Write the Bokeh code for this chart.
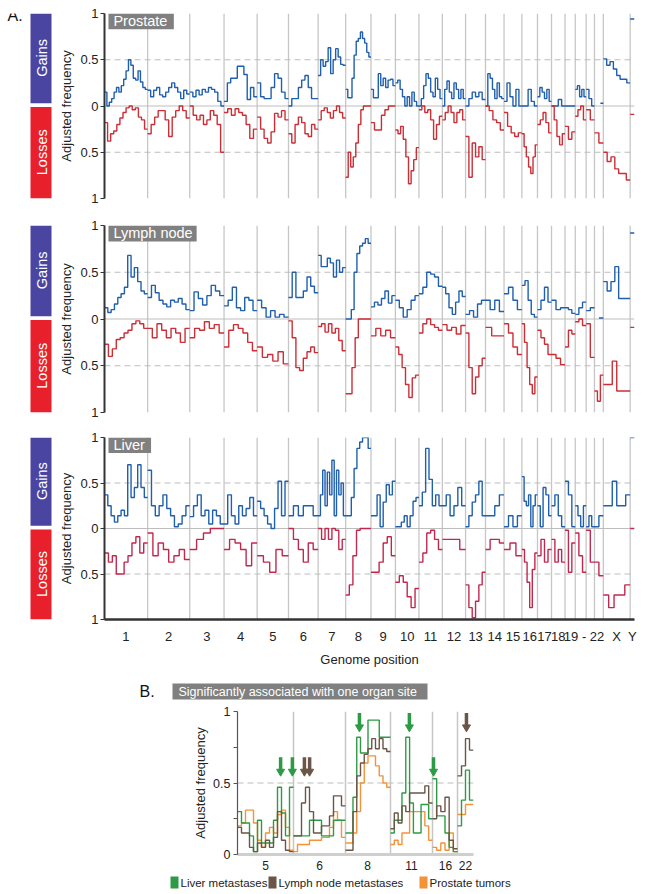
import math
import numpy as np
from bokeh.plotting import figure
from bokeh.layouts import column, row
from bokeh.models import FixedTicker, Span, Range1d, Label, CustomJSTickFormatter
from bokeh.core.properties import value
from bokeh.embed import file_html
from bokeh.resources import INLINE

FONT = "Liberation Sans"
N = None

# ---------------- genome layout (Mb) ----------------
chromosomes = ["1", "2", "3", "4", "5", "6", "7", "8", "9", "10", "11", "12",
               "13", "14", "15", "16", "17", "18", "19", "20", "21", "22", "X", "Y"]
chrom_length_mb = [249, 243, 198, 191, 181, 171, 159, 146, 141, 136, 135, 134,
                   115, 107, 103, 90, 81, 78, 59, 63, 48, 51, 155, 25]
axis_groups = [["1"], ["2"], ["3"], ["4"], ["5"], ["6"], ["7"], ["8"], ["9"], ["10"],
               ["11"], ["12"], ["13"], ["14"], ["15"], ["16"], ["17"], ["18"],
               ["19", "20", "21", "22"], ["X"], ["Y"]]
axis_labels = ["1", "2", "3", "4", "5", "6", "7", "8", "9", "10", "11", "12", "13",
               "14", "15", "16", "17", "18", "19 - 22", "X", "Y"]

# ---------------- Panel A data (fraction per chromosome bin) ----------------
prostate_gains = [
    [0.15, 0.0, 0.04, 0.08, 0.15, 0.2, 0.15, 0.22, 0.29, 0.38, 0.5, 0.44, 0.3, 0.28, 0.38, 0.26, 0.2, 0.18],
    [0.17, 0.1, 0.17, 0.2, 0.12, 0.1, 0.15, 0.2, 0.25, 0.2, 0.15, 0.08, 0.17, 0.13],
    [0.15, 0.1, 0.17, 0.12, 0.18, 0.15, 0.2, 0.18, 0.15, 0.05, 0.0],
    [0.05, 0.25, 0.3, 0.3, 0.43, 0.43, 0.34, 0.07, 0.2, 0.1],
    [0.25, 0.1, 0.08, 0.08, 0.2, 0.35, 0.3, 0.15, 0.08],
    [0.0, 0.08, 0.08, 0.2, 0.28, 0.33, 0.2, 0.08, 0.08],
    [0.33, 0.5, 0.43, 0.48, 0.63, 0.35, 0.5, 0.62, 0.53, 0.45, 0.44],
    [0.18, 0.09, 0.09, 0.3, 0.55, 0.7, 0.73, 0.8, 0.73, 0.68, 0.58, 0.53],
    [0.18, 0.09, 0.09, 0.35, 0.22, 0.3, 0.2, 0.28, 0.29, 0.22],
    [0.25, 0.28, 0.18, 0.1, 0.0, 0.1, 0.0, 0.15, 0.05, 0.0],
    [0.0, 0.08, 0.22, 0.35, 0.3, 0.15, 0.1, 0.3, 0.18, 0.08],
    [0.0, 0.18, 0.27, 0.15, 0.08, 0.25, 0.18, 0.08, 0.18, 0.08],
    [0.0, 0.08, 0.15, 0.1, 0.15, 0.07],
    [0.0, 0.35, 0.3, 0.18, 0.08, 0.25, 0.1, 0.08],
    [0.05, 0.25, 0.1, 0.0, 0.18, 0.0],
    [0.0, 0.0, 0.18, 0.05, 0.0],
    [0.1, 0.2, 0.15, 0.08, 0.18, 0.05],
    [0.0, 0.0, 0.07, 0.0],
    [0.0, 0.0],
    [0.18, 0.22, 0.1, 0.18, 0.1],
    [0.18, 0.08, 0.0],
    [N, N, 0.03],
    [0.51, 0.44, 0.48, 0.4, 0.33, 0.29, 0.29, 0.25],
    [0.94],
]
prostate_losses = [
    [0.18, 0.38, 0.3, 0.27, 0.2, 0.13, 0.07, 0.02, 0.0, 0.04, 0.02, 0.12, 0.15, 0.25],
    [0.3, 0.2, 0.12, 0.05, 0.05, 0.15, 0.33, 0.12, 0.05, 0.0, 0.05, 0.13],
    [0.0, 0.1, 0.15, 0.1, 0.2, 0.15, 0.05, 0.1, 0.2, 0.5],
    [0.07, 0.03, 0.1, 0.03, 0.07, 0.1, 0.2, 0.35, 0.25],
    [0.12, 0.25, 0.35, 0.4, 0.28, 0.08, 0.12, 0.05, 0.15],
    [0.3, 0.4, 0.2, 0.12, 0.18, 0.3, 0.33, 0.2, 0.25],
    [0.15, 0.05, 0.02, 0.07, 0.13, 0.05, 0.0, 0.07, 0.13],
    [0.77, 0.5, 0.66, 0.55, 0.4, 0.2, 0.04, 0.0, 0.0, 0.0],
    [0.18, 0.26, 0.26, 0.1, 0.04, 0.0, 0.0],
    [0.26, 0.3, 0.22, 0.36, 0.55, 0.84, 0.7, 0.58, 0.45],
    [0.04, 0.0, 0.07, 0.04, 0.15, 0.36, 0.2, 0.11],
    [0.15, 0.07, 0.0, 0.07, 0.18, 0.07, 0.04, 0.15],
    [0.33, 0.77, 0.4, 0.55, 0.44, 0.58],
    [0.0, 0.05, 0.15, 0.18, 0.26],
    [0.07, 0.22, 0.29, 0.33, 0.29],
    [0.3, 0.44, 0.55, 0.66, 0.73, 0.55, 0.42],
    [0.2, 0.15, 0.07, 0.18, 0.29],
    [0.0, 0.15, 0.33, 0.42, 0.3],
    [0.22, 0.36, 0.28],
    [0.11, 0.04, 0.0, 0.15],
    [0.04, 0.15],
    [0.29, 0.4],
    [0.5, 0.6, 0.55, 0.68, 0.73, 0.73, 0.8],
    [0.09],
]
lymph_gains = [
    [0.12, 0.07, 0.1, 0.16, 0.23, 0.27, 0.34, 0.68, 0.45, 0.55, 0.4, 0.3, 0.27],
    [0.23, 0.36, 0.28, 0.2, 0.16, 0.13, 0.2, 0.18, 0.22, 0.16, 0.1],
    [0.09, 0.29, 0.22, 0.15, 0.25, 0.36, 0.3, 0.25],
    [0.14, 0.2, 0.34, 0.12, 0.09, 0.23, 0.2, 0.09],
    [0.2, 0.12, 0.02, 0.09, 0.02, 0.05, 0.02],
    [0.23, 0.5, 0.23, 0.23, 0.3, 0.45, 0.35, 0.28],
    [0.68, 0.56, 0.56, 0.65, 0.6, 0.45, 0.63, 0.5, 0.55],
    [0.0, 0.0, 0.1, 0.5, 0.7, 0.78, 0.81, 0.86, 0.81],
    [0.13, 0.18, 0.15, 0.22, 0.3, 0.17, 0.25],
    [0.2, 0.12, 0.02, 0.1, 0.2, 0.25],
    [0.27, 0.34, 0.5, 0.48, 0.45, 0.35],
    [0.34, 0.27, 0.12, 0.05, 0.18, 0.3, 0.24],
    [0.05, 0.09, 0.02, 0.16, 0.2],
    [0.2, 0.1, 0.2, 0.08],
    [0.27, 0.34, 0.2, 0.1],
    [0.36, 0.41, 0.2, 0.05, 0.02],
    [0.1, 0.2, 0.34, 0.18],
    [0.2, 0.1, 0.12],
    [0.12, 0.1, 0.06],
    [0.05, 0.12, 0.18],
    [0.09, 0.12],
    [N, 0.01],
    [0.4, 0.3, 0.4, 0.56, 0.22, 0.22, 0.22],
    [0.92],
]
lymph_losses = [
    [0.27, 0.4, 0.32, 0.22, 0.2, 0.15, 0.12, 0.05, 0.02, 0.05, 0.1],
    [0.1, 0.2, 0.05, 0.12, 0.2, 0.1, 0.15, 0.25, 0.1],
    [0.2, 0.1, 0.12, 0.03, 0.1, 0.06, 0.15],
    [0.3, 0.12, 0.06, 0.1, 0.15, 0.25, 0.34],
    [0.3, 0.41, 0.38, 0.45, 0.35, 0.48],
    [0.02, 0.2, 0.52, 0.55, 0.42, 0.35, 0.3, 0.36],
    [0.08, 0.05, 0.14, 0.05, 0.15, 0.1, 0.23, 0.34],
    [0.8, 0.8, 0.52, 0.2, 0.0, 0.0, 0.0, 0.0],
    [0.18, 0.1, 0.18, 0.12, 0.2],
    [0.3, 0.38, 0.52, 0.7, 0.84, 0.63, 0.6],
    [0.15, 0.05, 0.0, 0.06, 0.09, 0.12],
    [0.06, 0.12, 0.09, 0.16, 0.07],
    [0.15, 0.52, 0.8, 0.62, 0.5, 0.42],
    [0.09, 0.18, 0.18],
    [0.05, 0.15, 0.3, 0.38],
    [0.05, 0.25, 0.52, 0.7, 0.8, 0.62],
    [0.12, 0.2, 0.27, 0.38],
    [0.38, 0.42, 0.49],
    [0.3, 0.12, 0.16],
    [0.03, 0.0, 0.07],
    [0.05, 0.41],
    [0.77, 0.88, 0.6],
    [0.7, 0.7, 0.45, 0.77, 0.77, 0.77],
    [0.09],
]
liver_gains = [
    [0.37, 0.25, 0.14, 0.07, 0.14, 0.2, 0.14, 0.7, 0.34, 0.45, 0.7, 0.45, 0.34],
    [0.64, 0.25, 0.14, 0.25, 0.37, 0.22, 0.14, 0.02, 0.05, 0.14, 0.25],
    [0.13, 0.25, 0.37, 0.14, 0.2, 0.05, 0.2, 0.14, 0.05],
    [0.05, 0.37, 0.14, 0.05, 0.25, 0.14, 0.22, 0.34, 0.14],
    [0.3, 0.22, 0.14, 0.05, 0.0, 0.22, 0.52, 0.14, 0.52],
    [0.14, 0.25, 0.14, 0.25, 0.25, 0.14],
    [0.14, 0.37, 0.64, 0.25, 0.62, 0.37, 0.75, 0.14, 0.64, 0.37, 0.5, 0.14],
    [0.14, 0.14, 0.34, 0.66, 0.88, 0.95, 1.0, 1.0, 0.88],
    [0.14, 0.14, 0.37, 0.02, 0.29, 0.48, 0.37, 0.52],
    [0.02, 0.02, 0.07, 0.14, 0.02, 0.14, 0.3, 0.34],
    [0.25, 0.4, 0.88, 0.54, 0.25, 0.37, 0.25],
    [0.25, 0.37, 0.14, 0.25, 0.45, 0.25],
    [0.02, 0.14, 0.29, 0.37, 0.52, 0.14],
    [0.14, 0.14, 0.25, 0.37],
    [0.02, 0.14, 0.02, 0.14],
    [0.57, 0.3, 0.25, 0.37, 0.02, 0.25, 0.37],
    [0.25, 0.02, 0.45, 0.37, 0.14],
    [0.25, 0.37, 0.14, 0.02],
    [0.52, 0.37, 0.02],
    [0.25, 0.14, 0.02, 0.25],
    [0.02, 0.14, 0.02],
    [0.02, 0.14],
    [0.25, 0.25, 0.52, 0.25, 0.25, 0.37],
    [1.0],
]
liver_losses = [
    [0.27, 0.37, 0.3, 0.5, 0.5, 0.37, 0.3, 0.16, 0.09, 0.27, 0.16],
    [0.05, 0.3, 0.16, 0.23, 0.37, 0.3, 0.23, 0.34],
    [0.23, 0.12, 0.05, 0.0, 0.0],
    [0.23, 0.12, 0.16, 0.23, 0.41, 0.16],
    [0.3, 0.37, 0.48, 0.23, 0.3],
    [0.0, 0.12, 0.23, 0.37, 0.16, 0.23],
    [0.0, 0.12, 0.0, 0.12, 0.0, 0.02, 0.23, 0.12],
    [0.73, 0.62, 0.3, 0.02, 0.0, 0.0, 0.0],
    [0.48, 0.48, 0.37, 0.16, 0.09, 0.3],
    [0.59, 0.52, 0.59, 0.75, 0.87, 0.66],
    [0.37, 0.27, 0.05, 0.02, 0.12, 0.23],
    [0.12, 0.12, 0.12, 0.23],
    [0.62, 0.87, 0.98, 0.8, 0.62, 0.48],
    [0.23, 0.12, 0.12, 0.16],
    [0.23, 0.16, 0.3],
    [0.23, 0.37, 0.59, 0.87, 0.45, 0.27],
    [0.3, 0.12, 0.37, 0.23],
    [0.12, 0.37, 0.23, 0.37],
    [0.02, 0.48, 0.16],
    [0.05, 0.3, 0.48],
    [0.02, 0.37],
    [0.37, 0.52],
    [0.73, 0.87, 0.73, 0.73, 0.62],
    [0.0],
]

# ---------------- Panel B data ----------------
b_regions = ["5", "6", "8", "11", "16", "22"]
b_region_width = [56, 52, 45, 42, 25, 16]
b_liver = [
    [0.3, 0.22, 0.22, 0.13, 0.02, 0.24, 0.08, 0.08, 0.08, 0.24, 0.47, 0.29, 0.13, 0.47],
    [0.13, 0.13, 0.13, 0.13, 0.24, 0.24, 0.24, 0.13, 0.13, 0.13, 0.24, 0.24, 0.24],
    [0.15, 0.15, 0.4, 0.82, 0.71, 0.71, 0.94, 0.94, 0.94, 0.82, 0.82, 0.82],
    [0.15, 0.24, 0.24, 0.43, 0.82, 0.36, 0.15, 0.15, 0.35, 0.35, 0.25],
    [0.53, 0.27, 0.27, 0.15, 0.05, 0.02],
    [0.2, 0.38, 0.59, 0.38],
]
b_lymph = [
    [0.19, 0.15, 0.15, 0.05, 0.02, 0.08, 0.05, 0.1, 0.05, 0.12, 0.3, 0.1, 0.03, 0.02],
    [0.13, 0.13, 0.36, 0.47, 0.3, 0.15, 0.15, 0.2, 0.2, 0.27, 0.41, 0.41, 0.34],
    [0.03, 0.03, 0.3, 0.55, 0.64, 0.7, 0.74, 0.81, 0.74, 0.81, 0.74, 0.72],
    [0.18, 0.29, 0.22, 0.34, 0.3, 0.43, 0.43, 0.43, 0.43, 0.48, 0.36],
    [0.25, 0.34, 0.3, 0.4, 0.1, 0.04],
    [0.55, 0.62, 0.81, 0.73],
]
b_prostate = [
    [0.2, 0.22, 0.31, 0.31, 0.22, 0.1, 0.05, 0.15, 0.19, 0.15, 0.28, 0.31, 0.19, 0.03],
    [0.02, 0.07, 0.07, 0.07, 0.1, 0.1, 0.1, 0.12, 0.12, 0.19, 0.3, 0.24, 0.12],
    [0.08, 0.08, 0.15, 0.3, 0.5, 0.64, 0.69, 0.69, 0.62, 0.55, 0.5, 0.47],
    [0.07, 0.1, 0.07, 0.15, 0.15, 0.3, 0.3, 0.3, 0.3, 0.2, 0.1],
    [0.05, 0.03, 0.08, 0.03, 0.15, 0.02],
    [0.28, 0.28, 0.35, 0.35],
]
arrow_region = ["5", "5", "6", "6", "8", "11", "16", "22"]
arrow_fraction = [0.77, 0.98, 0.21, 0.31, 0.31, 0.45, 0.04, 0.56]
arrow_site = ["liver", "liver", "lymph", "lymph", "liver", "liver", "liver", "lymph"]
arrow_tip = [0.55, 0.55, 0.55, 0.55, 0.86, 0.86, 0.55, 0.86]

legend_labels = ["Liver metastases", "Lymph node metastases", "Prostate tumors"]

# ---------------- styling ----------------
GAIN = "#1f5fae"
LOSS_RED = "#cc2e36"
LOSS_LIVER = "#c2284e"
GAIN_BOX = "#4a45a1"
LOSS_BOX = "#e8202b"
GREY_BOX = "#808080"
GRID = "#c6c6c6"
SITE_COLOR = {"liver": "#2e9a45", "lymph": "#6b5546", "prostate": "#f39237"}

LEFT_W = 56
MAIN_W = 583
FULL_W = LEFT_W + MAIN_W
PX_PER_UNIT_X = 535.0


def step_path(values, starts, lengths, sign):
    xs, ys = [], []
    for s, L, vals in zip(starts, lengths, values):
        v = np.array(vals, dtype=float) * sign
        n = len(v)
        edges = s + L * np.arange(n + 1) / n
        for i in range(n):
            xs += [edges[i], edges[i + 1]]
            ys += [v[i], v[i]]
        xs.append(np.nan)
        ys.append(np.nan)
    return np.array(xs), np.array(ys)


starts = np.concatenate([[0], np.cumsum(chrom_length_mb)[:-1]]).astype(float)
total = float(sum(chrom_length_mb))
boundaries = list(starts[1:])
name_to_idx = {c: i for i, c in enumerate(chromosomes)}
tick_pos = []
for grp in axis_groups:
    a = starts[name_to_idx[grp[0]]]
    b = starts[name_to_idx[grp[-1]]] + chrom_length_mb[name_to_idx[grp[-1]]]
    tick_pos.append(int(round((a + b) / 2)))


def px2x(px):
    return px * total / PX_PER_UNIT_X


def genome_panel(title, title_w, gains, losses, loss_color, top, frame_h, bottom, show_x):
    p = figure(width=MAIN_W, height=top + frame_h + bottom,
               x_range=Range1d(0, total), y_range=Range1d(-1, 1),
               output_backend="svg", toolbar_location=None, title=None,
               min_border_left=43, min_border_right=5, min_border_top=top,
               min_border_bottom=bottom,
               x_axis_location="below" if show_x else None, y_axis_location="left")
    p.grid.visible = False
    p.outline_line_color = None
    p.background_fill_color = "white"
    for b in boundaries:
        p.add_layout(Span(location=b, dimension="height", line_color=GRID,
                          line_width=1.3, level="underlay"))
    p.add_layout(Span(location=0, dimension="width", line_color="#bdbdbd",
                      line_width=1.2, level="underlay"))
    for yv in (0.5, -0.5):
        p.add_layout(Span(location=yv, dimension="width", line_color="#bdbdbd",
                          line_width=1.2, line_dash="6 4", level="underlay"))
    gx, gy = step_path(gains, starts, chrom_length_mb, 1)
    lx, ly = step_path(losses, starts, chrom_length_mb, -1)
    p.line(gx, gy, line_color=GAIN, line_width=1.4)
    p.line(lx, ly, line_color=loss_color, line_width=1.4)

    p.quad(left=[px2x(4)], right=[px2x(4 + title_w)], bottom=[0.83], top=[1.0],
           fill_color=GREY_BOX, line_color=None)
    p.add_layout(Label(x=px2x(9), y=0.915, text=title, text_color="white",
                       text_font=FONT, text_font_size="14.5px", text_baseline="middle"))

    ax = p.yaxis[0]
    ax.ticker = FixedTicker(ticks=[-1, -0.5, 0, 0.5, 1])
    ax.formatter = CustomJSTickFormatter(code="return Math.abs(tick).toString();")
    ax.axis_label = "Adjusted frequency"
    ax.axis_label_text_font = FONT
    ax.axis_label_text_font_size = "13px"
    ax.axis_label_text_font_style = "normal"
    ax.axis_label_text_color = "#222222"
    ax.axis_label_standoff = 3
    ax.major_label_text_font = FONT
    ax.major_label_text_font_size = "13px"
    ax.major_label_text_color = "#222222"
    ax.major_label_standoff = 2
    ax.major_tick_out = 4
    ax.major_tick_in = 0
    ax.minor_tick_line_color = None
    ax.axis_line_color = "#333333"
    ax.axis_line_width = 2
    ax.major_tick_line_color = "#333333"
    ax.major_tick_line_width = 1.2

    if show_x:
        xa = p.xaxis[0]
        xa.ticker = FixedTicker(ticks=tick_pos)
        xa.major_label_overrides = {t: lab for t, lab in zip(tick_pos, axis_labels)}
        xa.axis_label = "Genome position"
        xa.axis_label_text_font = FONT
        xa.axis_label_text_font_size = "13px"
        xa.axis_label_text_font_style = "normal"
        xa.axis_label_text_color = "#222222"
        xa.axis_label_standoff = 5
        xa.major_label_text_font = FONT
        xa.major_label_text_font_size = "13px"
        xa.major_label_text_color = "#222222"
        xa.major_label_standoff = 9
        xa.major_tick_line_color = None
        xa.minor_tick_line_color = None
        xa.major_tick_out = 0
        xa.axis_line_color = "#333333"
        xa.axis_line_width = 2.5
    return p


def side_panel(top, frame_h, bottom, letter=None):
    f = figure(width=LEFT_W, height=top + frame_h + bottom,
               x_range=Range1d(0, LEFT_W), y_range=Range1d(-1, 1),
               output_backend="svg", toolbar_location=None, title=None,
               min_border_left=0, min_border_right=0, min_border_top=top,
               min_border_bottom=bottom, x_axis_location=None, y_axis_location=None)
    f.grid.visible = False
    f.outline_line_color = None
    f.quad(left=[30, 30], right=[51, 51], top=[1.0, -0.01], bottom=[0.03, -1.0],
           fill_color=[GAIN_BOX, LOSS_BOX], line_color=None)
    f.text(x=[41, 41], y=[0.52, -0.5], text=["Gains", "Losses"], angle=math.pi / 2,
           text_align="center", text_baseline="middle", text_color="white",
           text_font=value(FONT), text_font_size="14.5px")
    if letter:
        f.add_layout(Label(x=7, y=0.975, text=letter, text_font=FONT,
                           text_font_size="16px", text_baseline="middle",
                           text_color="#111111"))
    return f


p1 = genome_panel("Prostate", 66, prostate_gains, prostate_losses, LOSS_RED, 13, 185, 11, False)
s1 = side_panel(13, 185, 11, "A.")
p2 = genome_panel("Lymph node", 89, lymph_gains, lymph_losses, LOSS_RED, 16, 187, 8, False)
s2 = side_panel(16, 187, 8)
p3 = genome_panel("Liver", 43, liver_gains, liver_losses, LOSS_LIVER, 17, 187, 45, True)
s3 = side_panel(17, 187, 45)

# ---------------- Panel B ----------------
top_b = figure(width=FULL_W, height=36, x_range=Range1d(0, FULL_W), y_range=Range1d(0, 36),
               output_backend="svg", toolbar_location=None, title=None, min_border=0,
               x_axis_location=None, y_axis_location=None)
top_b.grid.visible = False
top_b.outline_line_color = None
top_b.quad(left=[172], right=[427], bottom=[6], top=[22], fill_color=GREY_BOX, line_color=None)
top_b.text(x=[178], y=[14], text=["Significantly associated with one organ site"],
           text_color="white", text_font=value(FONT), text_font_size="12.5px",
           text_baseline="middle")
top_b.text(x=[139], y=[14], text=["B."], text_color="#111111", text_font=value(FONT),
           text_font_size="16px", text_baseline="middle")

b_starts = np.concatenate([[0], np.cumsum(b_region_width)[:-1]]).astype(float)
b_total = float(sum(b_region_width))
pB = figure(width=FULL_W, height=169, x_range=Range1d(0, b_total), y_range=Range1d(0, 1),
            output_backend="svg", toolbar_location=None, title=None,
            min_border_left=237, min_border_right=FULL_W - 237 - 236,
            min_border_top=6, min_border_bottom=20)
pB.grid.visible = False
pB.outline_line_color = None
for b in b_starts[1:]:
    pB.add_layout(Span(location=b, dimension="height", line_color=GRID, line_width=1.5,
                       level="underlay"))
pB.add_layout(Span(location=0.5, dimension="width", line_color="#bdbdbd", line_width=1.2,
                   line_dash="6 4", level="underlay"))
for series, key in ((b_prostate, "prostate"), (b_liver, "liver"), (b_lymph, "lymph")):
    xs, ys = step_path(series, b_starts, b_region_width, 1)
    pB.line(xs, ys, line_color=SITE_COLOR[key], line_width=1.4)

b_idx = {r: i for i, r in enumerate(b_regions)}
ax_x = [b_starts[b_idx[r]] + f * b_region_width[b_idx[r]] for r, f in zip(arrow_region, arrow_fraction)]
ax_col = [SITE_COLOR[s] for s in arrow_site]
pB.segment(x0=ax_x, x1=ax_x, y0=[t + 0.13 for t in arrow_tip], y1=[t + 0.04 for t in arrow_tip],
           line_color=ax_col, line_width=3.5)
pB.scatter(x=ax_x, y=[t + 0.03 for t in arrow_tip], marker="inverted_triangle", size=8,
           fill_color=ax_col, line_color=ax_col)

ya = pB.yaxis[0]
ya.ticker = FixedTicker(ticks=[0, 0.5, 1], minor_ticks=[0.25, 0.75])
ya.axis_label = "Adjusted frequency"
ya.axis_label_text_font = FONT
ya.axis_label_text_font_size = "13px"
ya.axis_label_text_font_style = "normal"
ya.axis_label_text_color = "#222222"
ya.axis_label_standoff = 2
ya.major_label_text_font = FONT
ya.major_label_text_font_size = "12.5px"
ya.major_label_text_color = "#222222"
ya.major_label_standoff = 3
ya.major_tick_out = 4
ya.major_tick_in = 0
ya.minor_tick_out = 4
ya.minor_tick_in = 0
ya.axis_line_color = "#555555"
ya.axis_line_width = 1.2
ya.major_tick_line_color = "#555555"
ya.minor_tick_line_color = "#555555"

b_ticks = [int(round(s + w / 2)) for s, w in zip(b_starts, b_region_width)]
xb = pB.xaxis[0]
xb.ticker = FixedTicker(ticks=b_ticks)
xb.major_label_overrides = {t: lab for t, lab in zip(b_ticks, b_regions)}
xb.major_label_text_font = FONT
xb.major_label_text_font_size = "12px"
xb.major_label_text_color = "#222222"
xb.major_label_standoff = 6
xb.major_tick_line_color = None
xb.minor_tick_line_color = None
xb.major_tick_out = 0
xb.axis_line_color = "#cfcfcf"
xb.axis_line_width = 3

leg = figure(width=FULL_W, height=16, x_range=Range1d(0, FULL_W), y_range=Range1d(0, 16),
             output_backend="svg", toolbar_location=None, title=None, min_border=0,
             x_axis_location=None, y_axis_location=None)
leg.grid.visible = False
leg.outline_line_color = None
leg_x = [170, 268, 419]
leg_keys = ["liver", "lymph", "prostate"]
leg.quad(left=leg_x, right=[x + 8 for x in leg_x], bottom=[2] * 3, top=[14] * 3,
         fill_color=[SITE_COLOR[k] for k in leg_keys], line_color=None)
leg.text(x=[x + 10 for x in leg_x], y=[8] * 3, text=legend_labels, text_color="#222222",
         text_font=value(FONT), text_font_size="11.5px", text_baseline="middle")

layout = column(row(s1, p1), row(s2, p2), row(s3, p3), row(top_b), row(pB), row(leg))
open("out.html", "w").write(file_html(layout, INLINE))
